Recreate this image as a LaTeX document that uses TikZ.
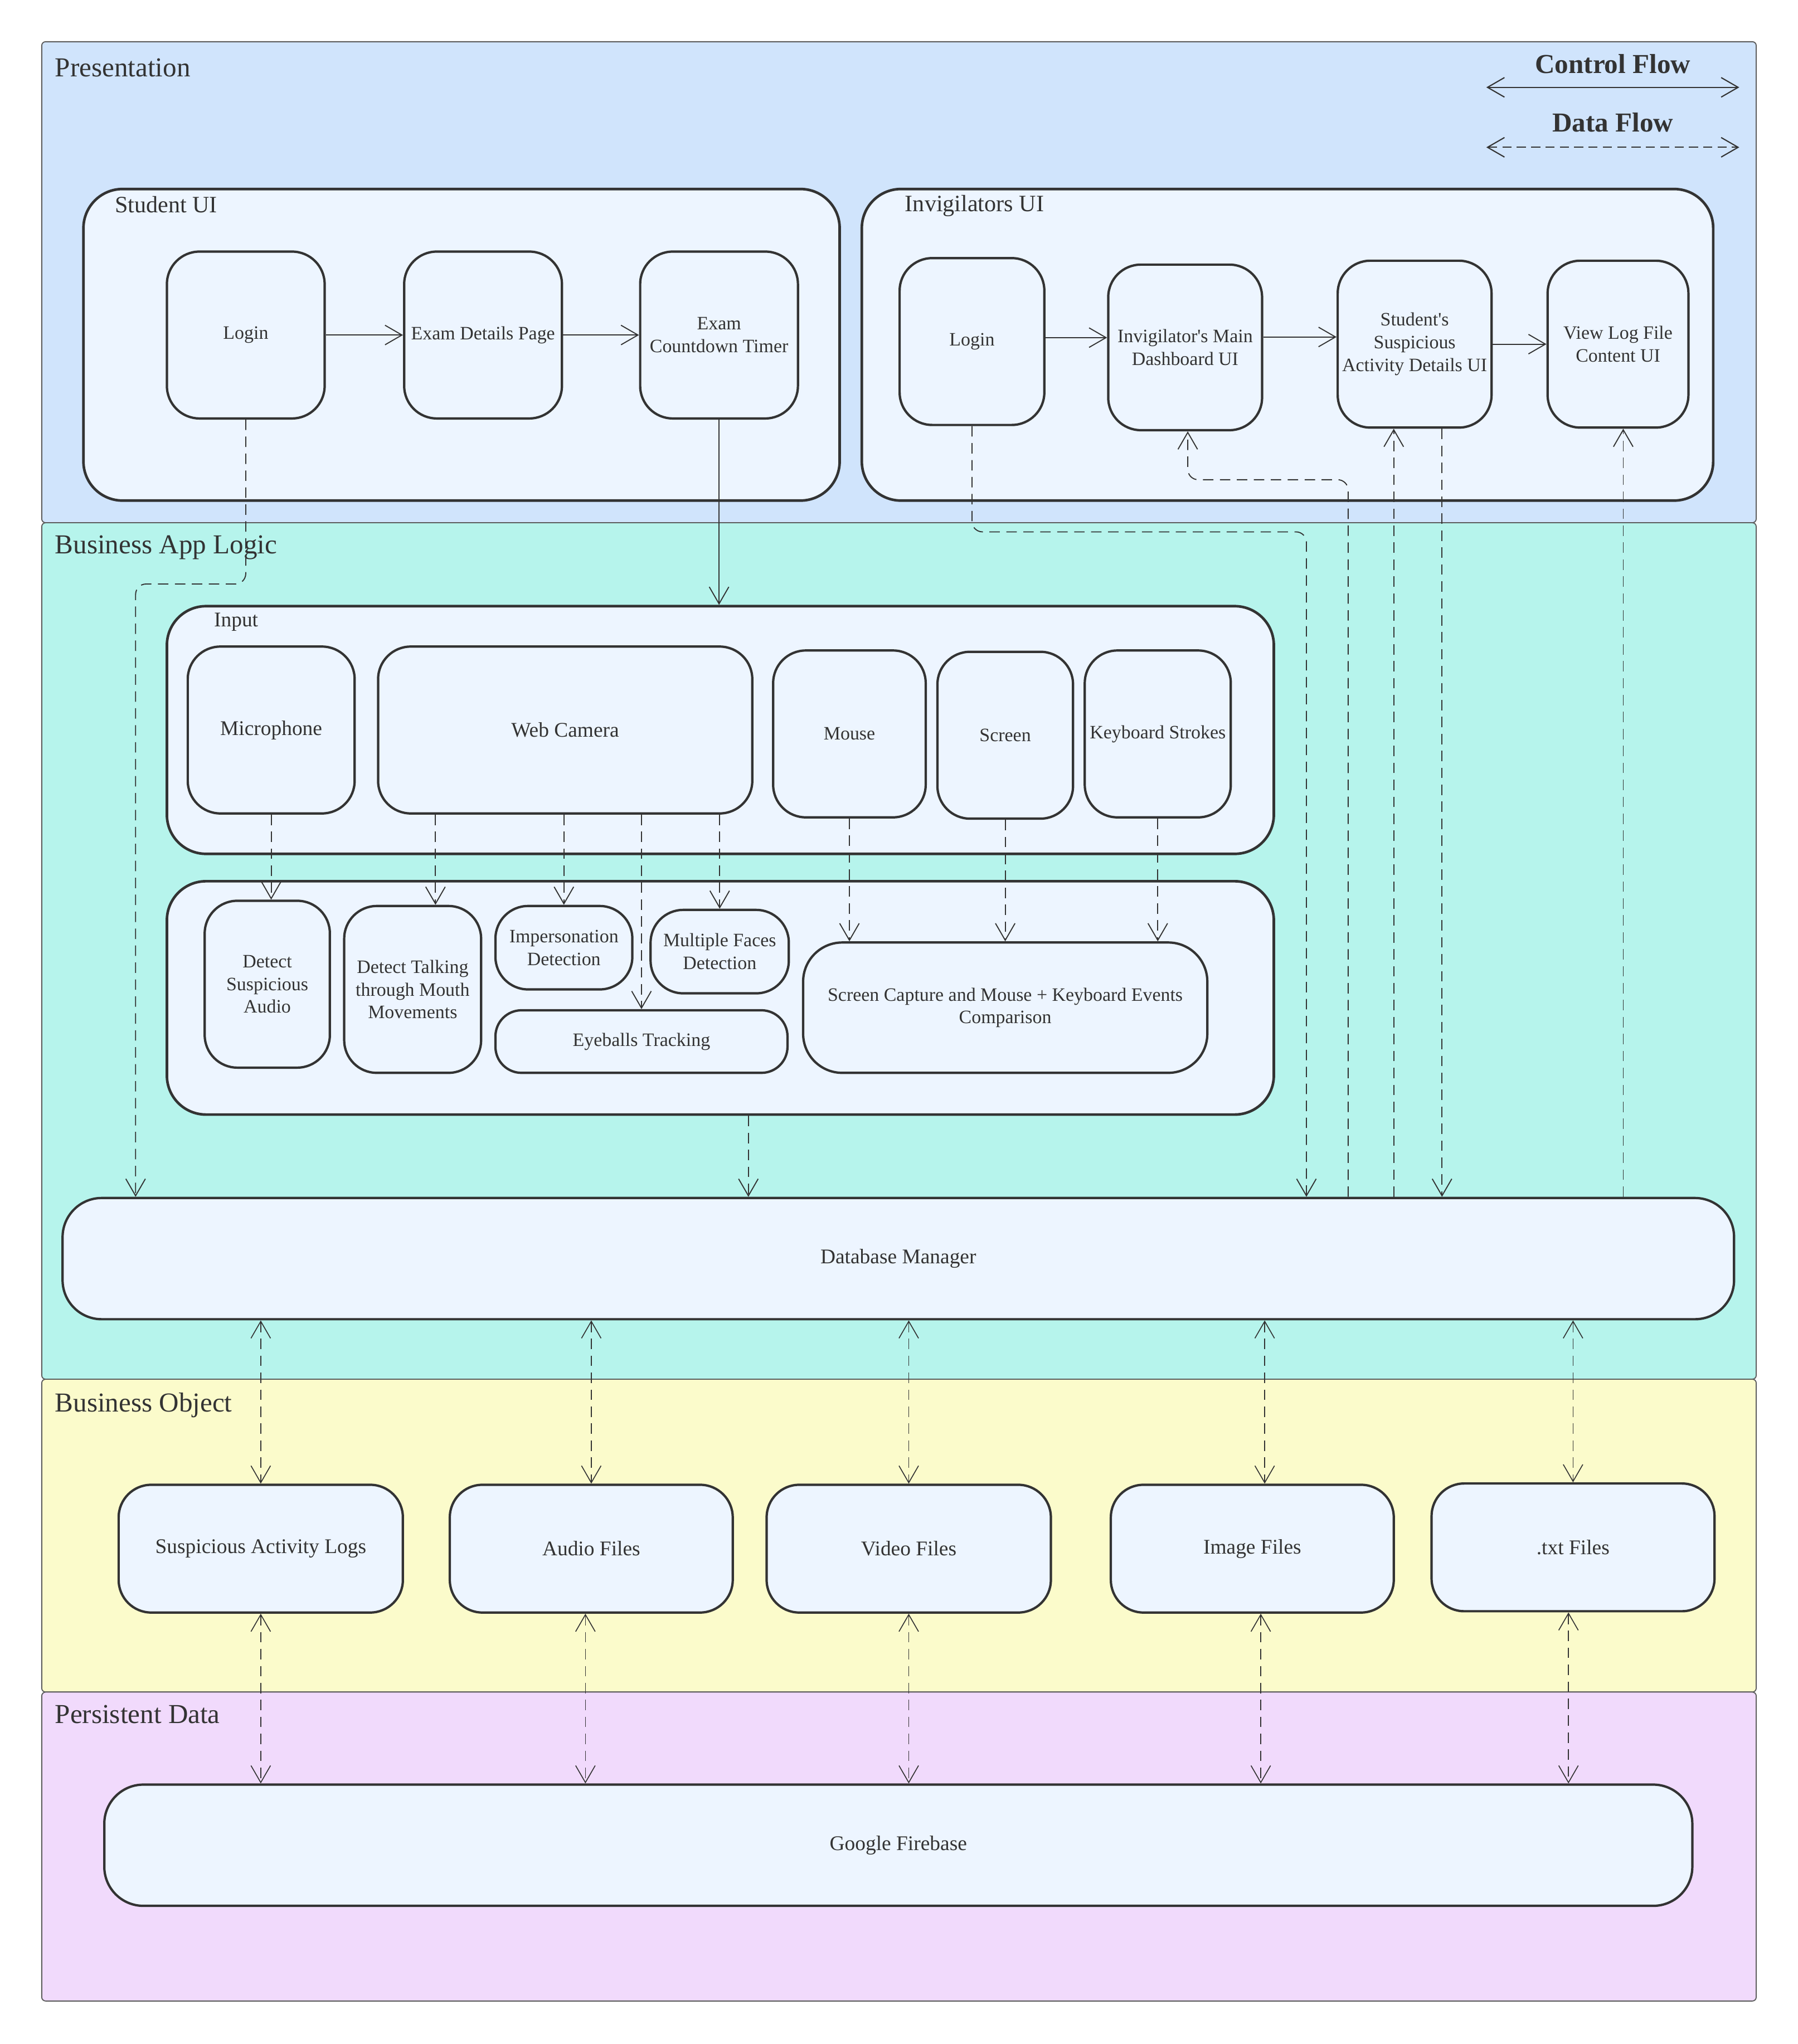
\documentclass[tikz,border=0pt]{standalone}
\usepackage{fontspec}
\setmainfont{Liberation Serif}
\usetikzlibrary{arrows.meta}
\definecolor{pres}{RGB}{208,228,252}
\definecolor{logic}{RGB}{182,244,236}
\definecolor{bobj}{RGB}{251,251,203}
\definecolor{pers}{RGB}{241,218,252}
\definecolor{nfill}{RGB}{237,245,255}
\definecolor{ink}{RGB}{51,51,51}
\newcommand{\fsN}{\fontsize{14.5}{17.4}\selectfont}
\newcommand{\fsB}{\fontsize{16}{19}\selectfont}
\newcommand{\fsT}{\fontsize{21}{25}\selectfont}
\newcommand{\fsG}{\fontsize{18}{21}\selectfont}
\begin{document}
\begin{tikzpicture}[x=1pt,y=-1pt,
  >={Straight Barb[length=13pt,width=15pt]},
  layer/.style={draw=ink!80, line width=0.8pt, rounded corners=3pt},
  grp/.style={draw=ink, line width=2pt, fill=nfill, rounded corners=30pt, inner sep=0pt},
  box/.style={draw=ink, line width=1.8pt, fill=nfill, rounded corners=25pt, inner sep=0pt, align=center, text=ink, font=\fsN},
  bigbox/.style={box, font=\fsB},
  ctrl/.style={draw=ink, line width=0.8pt, ->},
  data/.style={draw=ink, line width=0.8pt, dash pattern=on 8pt off 5pt, ->},
  data2/.style={draw=ink, line width=0.7pt, dash pattern=on 8pt off 5pt, <->},
  ttl/.style={anchor=west, inner sep=0pt, text=ink, font=\fsT},
  gttl/.style={anchor=west, inner sep=0pt, text=ink, font=\fsG},
  leg/.style={inner sep=0pt, text=ink, font=\fsT\bfseries}
]
\useasboundingbox (0,0) rectangle (1379,1568);
\fill[white] (0,0) rectangle (1379,1568);

% layers
\draw[layer, fill=pres] (32,32) rectangle (1347,401);
\draw[layer, fill=logic] (32,401) rectangle (1347,1058);
\draw[layer, fill=bobj] (32,1058) rectangle (1347,1298);
\draw[layer, fill=pers] (32,1298) rectangle (1347,1535);

\node[ttl] (tpres) at (42,52) {Presentation};
\node[ttl] (tlogic) at (42,420) {Business App Logic};
\node[ttl] (tbobj) at (42,1078) {Business Object};
\node[ttl] (tpers) at (42,1315) {Persistent Data};

% legend
\node[leg] (lctrl) at (1237,49) {Control Flow};
\node[leg] (ldata) at (1237,94) {Data Flow};
\coordinate (l1) at (1140,67);
\coordinate (l2) at (1334,67);
\coordinate (l3) at (1140,113);
\coordinate (l4) at (1334,113);
\draw[draw=ink, line width=0.9pt, <->] (l1) -- (l2);
\draw[draw=ink, line width=0.9pt, dash pattern=on 7pt off 4pt, <->] (l3) -- (l4);

% groups
\node[grp, minimum width=580pt, minimum height=239pt] (sui) at (354,264.5) {};
\node[gttl] (tsui) at (88,157) {Student UI};
\node[grp, minimum width=653pt, minimum height=239pt] (iui) at (987.5,264.5) {};
\node[gttl] (tiui) at (694,158) {Invigilators UI};
\node[grp, minimum width=849pt, minimum height=190pt] (input) at (552.5,560) {};
\node[anchor=west, inner sep=0pt, text=ink, font=\fsB] (tinput) at (164,477) {Input};
\node[grp, minimum width=849pt, minimum height=179pt] (proc) at (552.5,765.5) {};

% student UI nodes
\node[box, minimum width=121pt, minimum height=128pt] (slogin) at (188.5,257) {Login};
\node[box, minimum width=121pt, minimum height=128pt] (sdet) at (370.5,257) {Exam Details Page};
\node[box, minimum width=121pt, minimum height=128pt] (stimer) at (551.5,257) {Exam\\Countdown Timer};

% invigilator UI nodes
\node[box, minimum width=111pt, minimum height=128pt] (ilogin) at (745.5,262) {Login};
\node[box, minimum width=118pt, minimum height=127pt] (idash) at (909,266.5) {Invigilator\textquotesingle s Main\\Dashboard UI};
\node[box, minimum width=118pt, minimum height=128pt] (isusp) at (1085,264) {Student\textquotesingle s\\Suspicious\\Activity Details UI};
\node[box, minimum width=108pt, minimum height=128pt] (ilog) at (1241,264) {View Log File\\Content UI};

% input nodes
\node[bigbox, minimum width=128pt, minimum height=128pt] (mic) at (208,560) {Microphone};
\node[bigbox, minimum width=287pt, minimum height=128pt] (cam) at (433.5,560) {Web Camera};
\node[box, minimum width=117pt, minimum height=128pt] (mouse) at (651.5,563) {Mouse};
\node[box, minimum width=104pt, minimum height=128pt] (screen) at (771,564) {Screen};
\node[box, minimum width=112pt, minimum height=128pt] (kbd) at (888,563) {Keyboard Strokes};

% processing nodes
\node[box, minimum width=96pt, minimum height=128pt] (audio) at (205,755) {Detect\\Suspicious\\Audio};
\node[box, minimum width=105pt, minimum height=128pt] (talk) at (316.5,759) {Detect Talking\\through Mouth\\Movements};
\node[box, minimum width=105pt, minimum height=64pt] (imp) at (432.5,727) {Impersonation\\Detection};
\node[box, minimum width=106pt, minimum height=64pt] (mface) at (552,730) {Multiple Faces\\Detection};
\node[box, minimum width=224pt, minimum height=48pt, rounded corners=20pt] (eye) at (492,799) {Eyeballs Tracking};
\node[box, minimum width=310pt, minimum height=100pt, rounded corners=30pt] (scap) at (771,773) {Screen Capture and Mouse + Keyboard Events\\Comparison};

% database manager
\node[bigbox, minimum width=1282pt, minimum height=93pt, rounded corners=30pt] (dbm) at (689,965.5) {Database Manager};

% business objects
\node[bigbox, minimum width=218pt, minimum height=98pt] (sal) at (200,1188) {Suspicious Activity Logs};
\node[bigbox, minimum width=217pt, minimum height=98pt] (afile) at (453.5,1188) {Audio Files};
\node[bigbox, minimum width=218pt, minimum height=98pt] (vfile) at (697,1188) {Video Files};
\node[bigbox, minimum width=217pt, minimum height=98pt] (ifile) at (960.5,1188) {Image Files};
\node[bigbox, minimum width=217pt, minimum height=98pt] (tfile) at (1206.5,1187) {.txt Files};

% firebase
\node[bigbox, minimum width=1218pt, minimum height=93pt, rounded corners=30pt] (fb) at (689,1415.5) {Google Firebase};

% control flow
\draw[ctrl] (slogin.east) -- (sdet.west);
\draw[ctrl] (sdet.east) -- (stimer.west);
\draw[ctrl] (stimer.south) -- (stimer.south |- input.north);
\draw[ctrl] ([yshift=3pt]ilogin.east) -- ([yshift=3pt]ilogin.east -| idash.west);
\draw[ctrl] ([yshift=8pt]idash.east) -- ([yshift=8pt]idash.east -| isusp.west);
\draw[ctrl] (isusp.east) -- (isusp.east -| ilog.west);

% coordinates for data flow
\coordinate (c1) at (104,448);
\coordinate (c2) at (1002,408);
\coordinate (c3) at (1034,368);
\coordinate (c4) at (911,368);
\coordinate (x5) at (1069,0);
\coordinate (x6) at (1106,0);
\coordinate (x7) at (1245,0);
\coordinate (x8) at (334,0);
\coordinate (x9) at (574,0);
\coordinate (xi) at (970,0);
\coordinate (xa2) at (449,0);
\coordinate (xi2) at (967,0);
\coordinate (xt2) at (1203,0);

% data flow
\draw[data, rounded corners=8pt] (slogin.south) |- (c1) -- (dbm.north -| c1);
\draw[data, rounded corners=8pt] (ilogin.south) |- (c2) -- (dbm.north -| c2);
\draw[data, rounded corners=8pt] (dbm.north -| c3) |- (c4) -- (c4 |- idash.south);
\draw[data] (dbm.north -| x5) -- (x5 |- isusp.south);
\draw[data] (isusp.south -| x6) -- (dbm.north -| x6);
\draw[data] (dbm.north -| x7) -- (x7 |- ilog.south);

\draw[data] (mic.south) -- (mic.south |- audio.north);
\draw[data] (cam.south -| x8) -- (x8 |- talk.north);
\draw[data] (cam.south -| imp.north) -- (imp.north);
\draw[data] (cam.south -| eye.north) -- (eye.north);
\draw[data] (cam.south -| mface.north) -- (mface.north);
\draw[data] (mouse.south) -- (mouse.south |- scap.north);
\draw[data] (screen.south) -- (screen.south |- scap.north);
\draw[data] (kbd.south) -- (kbd.south |- scap.north);
\draw[data] (proc.south -| x9) -- (x9 |- dbm.north);

\draw[data2] (dbm.south -| sal.north) -- (sal.north);
\draw[data2] (dbm.south -| afile.north) -- (afile.north);
\draw[data2] (dbm.south -| vfile.north) -- (vfile.north);
\draw[data2] (dbm.south -| xi) -- (xi |- ifile.north);
\draw[data2] (dbm.south -| tfile.north) -- (tfile.north);

\draw[data2] (sal.south) -- (sal.south |- fb.north);
\draw[data2] (afile.south -| xa2) -- (xa2 |- fb.north);
\draw[data2] (vfile.south) -- (vfile.south |- fb.north);
\draw[data2] (ifile.south -| xi2) -- (xi2 |- fb.north);
\draw[data2] (tfile.south -| xt2) -- (xt2 |- fb.north);
\end{tikzpicture}
\end{document}
